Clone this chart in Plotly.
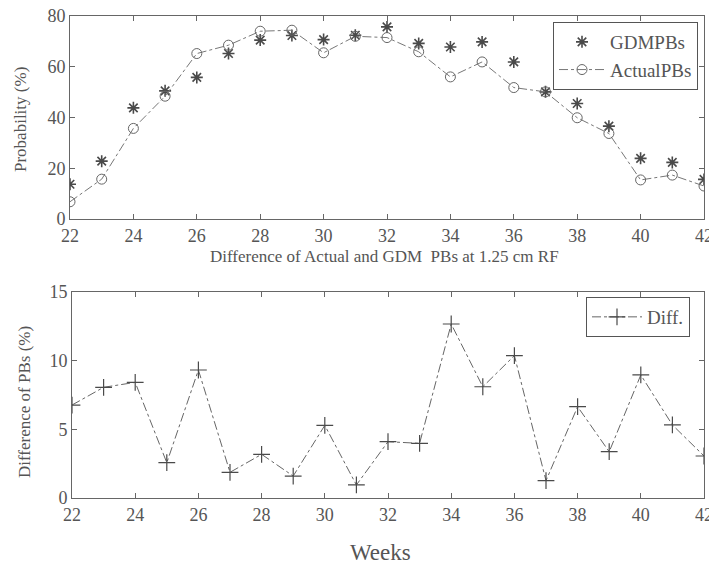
import plotly.graph_objects as go

weeks = list(range(22, 43))
gdm_pbs = [13.7, 22.8, 43.8, 50.5, 55.8, 65.2, 70.5, 72.3, 70.7, 72.4, 75.7,
           69.2, 67.8, 69.8, 61.9, 50.1, 45.5, 36.6, 23.9, 22.3, 15.6]
actual_pbs = [6.8, 15.7, 35.7, 48.4, 65.2, 68.5, 74.0, 74.4, 65.5, 72.0, 71.5,
              65.9, 56.0, 61.9, 51.8, 50.1, 39.9, 33.7, 15.4, 17.3, 13.0]
diff = [6.77, 8.06, 8.42, 2.57, 9.32, 1.87, 3.18, 1.6, 5.29, 0.95, 4.1,
        3.98, 12.67, 8.1, 10.37, 1.26, 6.65, 3.37, 8.96, 5.32, 3.06]

top_xticks = list(range(22, 43, 2))
top_yticks = [0, 20, 40, 60, 80]
bot_yticks = [0, 5, 10, 15]

W, H = 709, 571
ink = "#4a4a4a"
txt = "#555555"
font = "Liberation Serif"

def px(x):
    return x / W

def py(y):
    return 1 - y / H

fig = go.Figure()
fig.add_trace(go.Scatter(
    x=weeks, y=gdm_pbs, mode="markers", name="GDMPBs",
    marker=dict(symbol="asterisk-open", size=10, color=ink, line=dict(color=ink, width=1.6)),
    xaxis="x", yaxis="y", legend="legend"))
fig.add_trace(go.Scatter(
    x=weeks, y=actual_pbs, mode="lines+markers", name="ActualPBs",
    line=dict(color="#777777", width=1, dash="dashdot"),
    marker=dict(symbol="circle-open", size=10, color="#666666", line=dict(width=1)),
    xaxis="x", yaxis="y", legend="legend"))
fig.add_trace(go.Scatter(
    x=weeks, y=diff, mode="lines+markers", name="Diff.",
    line=dict(color="#666666", width=1, dash="dashdot"),
    marker=dict(symbol="cross-thin-open", size=12, color=ink, line=dict(color=ink, width=1.2)),
    xaxis="x2", yaxis="y2", legend="legend2"))

axis_common = dict(showline=True, linecolor="#666666", linewidth=1, mirror="ticks",
                   ticks="inside", ticklen=5, tickcolor="#666666", showgrid=False,
                   zeroline=False, ticklabeloverflow="allow", automargin=False,
                   tickfont=dict(family=font, size=18, color=txt))

fig.update_layout(
    width=W, height=H,
    margin=dict(l=0, r=0, t=0, b=0),
    paper_bgcolor="white", plot_bgcolor="white",
    font=dict(family=font, color=txt),
    xaxis=dict(domain=[px(70), px(704)], range=[22, 42], tickvals=top_xticks,
               anchor="y", **axis_common),
    yaxis=dict(domain=[py(219), py(16)], range=[0, 80], tickvals=top_yticks,
               anchor="x", **axis_common),
    xaxis2=dict(domain=[px(72), px(704)], range=[22, 42], tickvals=top_xticks,
                anchor="y2", **axis_common),
    yaxis2=dict(domain=[py(498), py(292)], range=[0, 15], tickvals=bot_yticks,
                anchor="x2", **axis_common),
    legend=dict(x=px(553), y=py(22), xanchor="left", yanchor="top",
                bordercolor="#555555", borderwidth=1, bgcolor="white",
                font=dict(family=font, size=19, color=txt), tracegroupgap=0,
                itemwidth=46),
    legend2=dict(x=px(586), y=py(297), xanchor="left", yanchor="top",
                 bordercolor="#555555", borderwidth=1, bgcolor="white",
                 font=dict(family=font, size=19, color=txt), itemwidth=50),
    showlegend=True,
    annotations=[
        dict(text="Difference of Actual and GDM  PBs at 1.25 cm RF", x=px(384), y=py(256),
             xref="paper", yref="paper", showarrow=False, xanchor="center", yanchor="middle",
             font=dict(family=font, size=17, color=txt)),
        dict(text="Weeks", x=px(380), y=py(552), xref="paper", yref="paper",
             showarrow=False, xanchor="center", yanchor="middle",
             font=dict(family=font, size=23, color=txt)),
        dict(text="Probability (%)", x=px(21), y=py(120), xref="paper", yref="paper",
             showarrow=False, textangle=-90, xanchor="center", yanchor="middle",
             font=dict(family=font, size=17, color=txt)),
        dict(text="Difference of PBs (%)", x=px(24), y=py(402), xref="paper", yref="paper",
             showarrow=False, textangle=-90, xanchor="center", yanchor="middle",
             font=dict(family=font, size=17, color=txt)),
    ],
)

fig.write_html("out.html")
